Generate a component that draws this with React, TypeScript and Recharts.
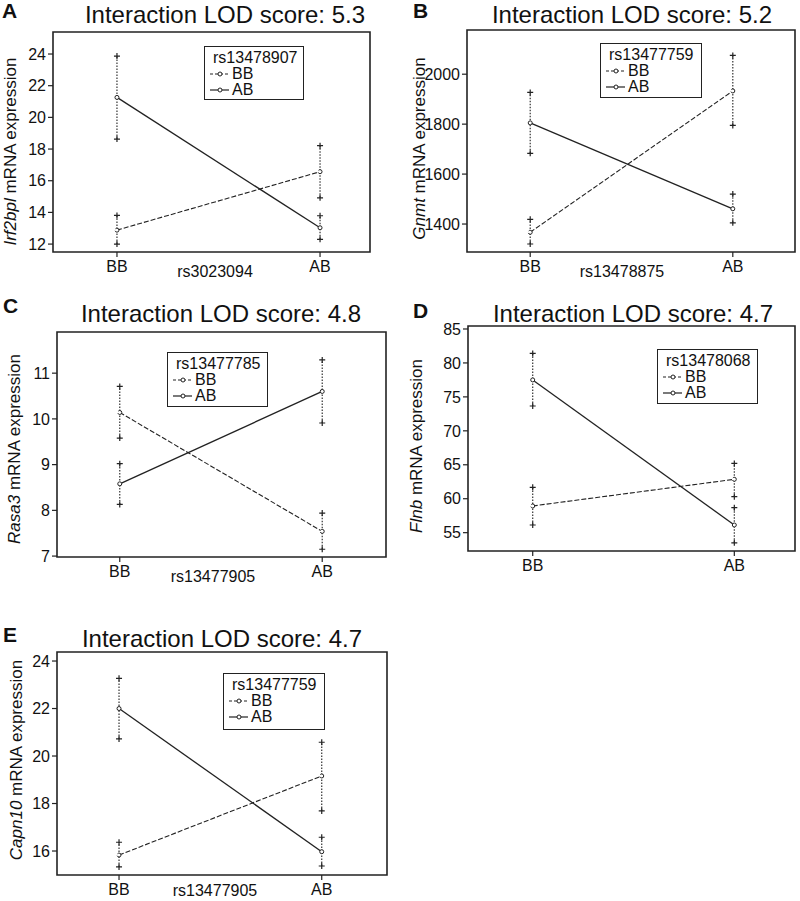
import React from 'react'
import { ComposedChart, Line, XAxis, YAxis, ReferenceArea, Legend } from 'recharts'

const FONT = 'Arial, "Liberation Sans", Helvetica, sans-serif'
const genotypes = ['BB', 'AB']

// A: Irf2bpl
const aBB = [12.88, 16.57]
const aBBLow = [12.0, 14.92]
const aBBHigh = [13.81, 18.21]
const aAB = [21.26, 13.03]
const aABLow = [18.63, 12.3]
const aABHigh = [23.87, 13.79]
const aTicks = [12, 14, 16, 18, 20, 22, 24]

// B: Gnmt
const bBB = [1367, 1933]
const bBBLow = [1320, 1795]
const bBBHigh = [1419, 2075]
const bAB = [1805, 1461]
const bABLow = [1683, 1405]
const bABHigh = [1927, 1520]
const bTicks = [1400, 1600, 1800, 2000]

// C: Rasa3
const cBB = [10.14, 7.54]
const cBBLow = [9.58, 7.15]
const cBBHigh = [10.71, 7.94]
const cAB = [8.58, 10.6]
const cABLow = [8.13, 9.91]
const cABHigh = [9.02, 11.29]
const cTicks = [7, 8, 9, 10, 11]

// D: Flnb
const dBB = [58.93, 62.86]
const dBBLow = [56.13, 60.3]
const dBBHigh = [61.68, 65.2]
const dAB = [77.5, 56.13]
const dABLow = [73.66, 53.5]
const dABHigh = [81.4, 58.68]
const dTicks = [55, 60, 65, 70, 75, 80, 85]

// E: Capn10
const eBB = [15.83, 19.16]
const eBBLow = [15.33, 17.69]
const eBBHigh = [16.37, 20.58]
const eAB = [22.0, 15.97]
const eABLow = [20.72, 15.37]
const eABHigh = [23.27, 16.58]
const eTicks = [16, 18, 20, 22, 24]

const panels = [
  {
    letter: 'A', title: 'Interaction LOD score: 5.3', gene: 'Irf2bpl', xLabel: 'rs3023094', legendTitle: 'rs13478907',
    bb: aBB, bbLow: aBBLow, bbHigh: aBBHigh, ab: aAB, abLow: aABLow, abHigh: aABHigh, ticks: aTicks,
    pos: [0, 0, 400, 290], box: [53, 32, 370, 252], xDomain: [0.685, 2.246], yDomain: [11.5, 25.39],
    legend: [204, 46, 100, 54], titleAt: [225, 23], letterAt: [2, 18], xLabelAt: [215, 277], yLabelAt: [15.5, 151.5],
  },
  {
    letter: 'B', title: 'Interaction LOD score: 5.2', gene: 'Gnmt', xLabel: 'rs13478875', legendTitle: 'rs13477759',
    bb: bBB, bbLow: bBBLow, bbHigh: bBBHigh, ab: bAB, abLow: bABLow, abHigh: bABHigh, ticks: bTicks,
    pos: [400, 0, 400, 290], box: [467, 30, 795, 252], xDomain: [0.688, 2.307], yDomain: [1288, 2177],
    legend: [200, 43, 102, 55], titleAt: [632, 23], letterAt: [413, 18], xLabelAt: [622, 277], yLabelAt: [424.5, 148.5],
  },
  {
    letter: 'C', title: 'Interaction LOD score: 4.8', gene: 'Rasa3', xLabel: 'rs13477905', legendTitle: 'rs13477785',
    bb: cBB, bbLow: cBBLow, bbHigh: cBBHigh, ab: cAB, abLow: cABLow, abHigh: cABHigh, ticks: cTicks,
    pos: [0, 290, 400, 300], box: [57, 332, 386, 557], xDomain: [0.69, 2.315], yDomain: [6.98, 11.9],
    legend: [167, 62, 101, 55], titleAt: [221, 322], letterAt: [3, 313], xLabelAt: [213, 582], yLabelAt: [19.5, 449],
  },
  {
    letter: 'D', title: 'Interaction LOD score: 4.7', gene: 'Flnb', xLabel: '', legendTitle: 'rs13478068',
    bb: dBB, bbLow: dBBLow, bbHigh: dBBHigh, ab: dAB, abLow: dABLow, abHigh: dABHigh, ticks: dTicks,
    pos: [400, 290, 400, 300], box: [468, 326, 795, 551], xDomain: [0.679, 2.301], yDomain: [52.3, 85.44],
    legend: [257, 59, 101, 55], titleAt: [633, 322], letterAt: [413, 318], xLabelAt: [0, 0], yLabelAt: [421.5, 446],
  },
  {
    letter: 'E', title: 'Interaction LOD score: 4.7', gene: 'Capn10', xLabel: 'rs13477905', legendTitle: 'rs13477759',
    bb: eBB, bbLow: eBBLow, bbHigh: eBBHigh, ab: eAB, abLow: eABLow, abHigh: eABHigh, ticks: eTicks,
    pos: [0, 590, 400, 311], box: [57, 652, 387, 875], xDomain: [0.694, 2.322], yDomain: [14.99, 24.38],
    legend: [223, 83, 102, 57], titleAt: [222, 647], letterAt: [3, 642], xLabelAt: [215, 896], yLabelAt: [21.5, 760],
  },
]

const YW = 45
const XH = 20

const toPts = (vals: number[]) => vals.map((y, i) => ({ x: i + 1, y }))
const barPts = (i: number, lo: number[], hi: number[]) => [{ x: i + 1, y: lo[i] }, { x: i + 1, y: hi[i] }]

const Plus = (props: any) => {
  const { cx, cy, index } = props
  if (cx == null || cy == null) return <g key={index} />
  return (
    <path key={index} d={`M${cx - 3},${cy}H${cx + 3}M${cx},${cy - 3}V${cy + 3}`} stroke="#222" strokeWidth={1.2} fill="none" />
  )
}

function LegendBox({ title }: { title: string }) {
  return (
    <div style={{
      border: '1.5px solid #222', background: '#fff', width: '100%', height: '100%', boxSizing: 'border-box',
      fontFamily: FONT, fontSize: 16, lineHeight: '16px', color: '#111', padding: '3px 0 0 5px',
    }}>
      <div style={{ paddingLeft: 3 }}>{title}</div>
      {genotypes.map(g => (
        <div key={g} style={{ display: 'flex', alignItems: 'center', height: 16 }}>
          <svg width={20} height={10} style={{ marginRight: 2 }}>
            <line x1={0} y1={5} x2={19} y2={5} stroke="#222" strokeWidth={1.2} strokeDasharray={g === 'BB' ? '3 2' : undefined} />
            <circle cx={10} cy={5} r={2} fill="#fff" stroke="#222" strokeWidth={1} />
          </svg>
          <span>{g}</span>
        </div>
      ))}
    </div>
  )
}

function Panel({ p }: { p: typeof panels[number] }) {
  const [px, py, w, h] = p.pos
  const [bl, bt, br, bb] = p.box
  const margin = { top: bt - py, left: bl - px - YW, right: px + w - br, bottom: py + h - bb - XH }
  const tick = { fontSize: 16, fill: '#111', fontFamily: FONT }
  const meanDot = { r: 2, fill: '#fff', stroke: '#222', strokeWidth: 1 }
  return (
    <div style={{ position: 'absolute', left: px, top: py, width: w, height: h }}>
      <ComposedChart width={w} height={h} margin={margin}>
        <XAxis type="number" dataKey="x" domain={p.xDomain} ticks={[1, 2]} allowDataOverflow
          tickFormatter={(v: number) => genotypes[v - 1] ?? ''} axisLine={false} tickSize={5} tickMargin={4}
          tickLine={{ stroke: '#222', strokeWidth: 1.2 }} tick={tick} height={XH} interval={0} />
        <YAxis type="number" domain={p.yDomain} ticks={p.ticks} allowDataOverflow axisLine={false}
          tickSize={5} tickMargin={2} tickLine={{ stroke: '#222', strokeWidth: 1.2 }} tick={tick} width={YW} interval={0} />
        <ReferenceArea x1={p.xDomain[0]} x2={p.xDomain[1]} y1={p.yDomain[0]} y2={p.yDomain[1]}
          fill="none" fillOpacity={0} stroke="#222" strokeWidth={1.6} ifOverflow="visible" />
        {[0, 1].map(i => (
          <Line key={`bbe${i}`} data={barPts(i, p.bbLow, p.bbHigh)} dataKey="y" stroke="#333" strokeWidth={1.2}
            strokeDasharray="1.5 1.5" dot={Plus} activeDot={false} isAnimationActive={false} legendType="none" />
        ))}
        {[0, 1].map(i => (
          <Line key={`abe${i}`} data={barPts(i, p.abLow, p.abHigh)} dataKey="y" stroke="#333" strokeWidth={1.2}
            strokeDasharray="1.5 1.5" dot={Plus} activeDot={false} isAnimationActive={false} legendType="none" />
        ))}
        <Line data={toPts(p.bb)} dataKey="y" name="BB" stroke="#222" strokeWidth={1.1} strokeDasharray="5 2"
          dot={meanDot} activeDot={false} isAnimationActive={false} />
        <Line data={toPts(p.ab)} dataKey="y" name="AB" stroke="#222" strokeWidth={1.3}
          dot={meanDot} activeDot={false} isAnimationActive={false} />
        <Legend layout="vertical" align="center" verticalAlign="middle"
          wrapperStyle={{ left: p.legend[0], top: p.legend[1], width: p.legend[2], height: p.legend[3] }}
          content={() => <LegendBox title={p.legendTitle} />} />
      </ComposedChart>
    </div>
  )
}

export default function App() {
  return (
    <div style={{ position: 'absolute', left: 0, top: 0, width: 800, height: 901, background: '#fff', overflow: 'hidden' }}>
      {panels.map(p => <Panel key={p.letter} p={p} />)}
      <svg width={800} height={901} style={{ position: 'absolute', left: 0, top: 0, pointerEvents: 'none' }}
        fontFamily={FONT} fill="#111">
        {panels.map(p => (
          <g key={p.letter}>
            <text x={p.letterAt[0]} y={p.letterAt[1]} fontSize={21} fontWeight="bold">{p.letter}</text>
            <text x={p.titleAt[0]} y={p.titleAt[1]} fontSize={24} textAnchor="middle">{p.title}</text>
            {p.xLabel && <text x={p.xLabelAt[0]} y={p.xLabelAt[1]} fontSize={16} textAnchor="middle">{p.xLabel}</text>}
            <text transform={`translate(${p.yLabelAt[0]},${p.yLabelAt[1]}) rotate(-90)`} fontSize={17} textAnchor="middle">
              <tspan fontStyle="italic">{p.gene}</tspan> mRNA expression
            </text>
          </g>
        ))}
      </svg>
    </div>
  )
}
